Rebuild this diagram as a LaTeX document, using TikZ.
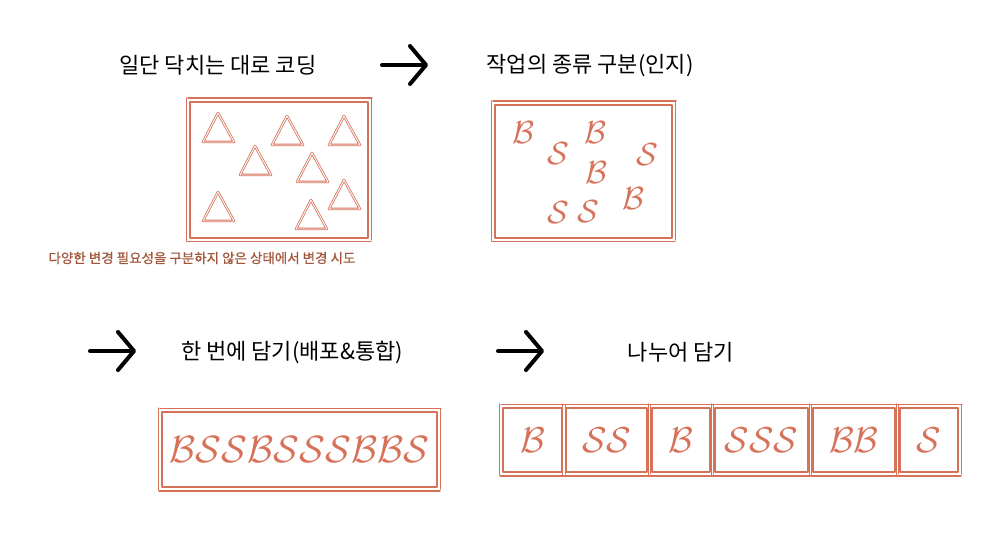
\documentclass[tikz,border=0pt]{standalone}
\usepackage{fontspec}
\newfontfamily\kor{Noto Sans CJK KR}
\newfontfamily\kornote{Noto Sans CJK KR}[FakeBold=0.8]
\usepackage{xcolor}
\usepackage{graphicx}
\usetikzlibrary{arrows.meta}
\definecolor{brick}{RGB}{214,114,90}
\definecolor{umber}{RGB}{163,88,62}
\newcommand{\bigcal}[2]{\scalebox{#1}{$\mathcal{#2}$}}
\tikzset{>=latex}
\tikzstyle{title}=[font=\kor\fontsize{22}{22}\selectfont, inner sep=0]
\tikzstyle{note}=[font=\kornote\fontsize{13.5}{14}\selectfont, text=umber, inner sep=0]
\tikzstyle{pen}=[draw=brick, line width=2pt, line cap=round, line join=round]
\tikzstyle{sketchbox}=[pen, inner sep=0, text=brick]
\tikzstyle{tri}=[draw=brick, double=white, line width=0.8pt, double distance=0.9pt, line join=round]
\tikzstyle{go}=[line width=4pt, line cap=round, -{Straight Barb[length=16pt,width=38pt,round]}]
\tikzstyle{letter}=[text=brick, inner sep=0]

\begin{document}
\begin{tikzpicture}[x=1pt, y=-1pt]
      \useasboundingbox (0,0) rectangle (1003,537);
      \node[title] (t1) at (218,65) {일단 닥치는 대로 코딩};
      \node[title] (t2) at (590,66) {작업의 종류 구분(인지)};
      \node[title] (t3) at (292,352) {한 번에 담기(배포\&통합)};
      \node[title] (t4) at (681,352) {나누어 담기};
      \node[note] (n1) at (202,258) {다양한 변경 필요성을 구분하지 않은 상태에서 변경 시도};
      \coordinate (a1) at (382,65);
      \coordinate (a1e) at (428,65);
      \coordinate (a2) at (90,351);
      \coordinate (a2e) at (136,351);
      \coordinate (a3) at (498,351);
      \coordinate (a3e) at (544,351);
      \draw[go] (a1) -- (a1e);
      \draw[go] (a2) -- (a2e);
      \draw[go] (a3) -- (a3e);
      \node[sketchbox, minimum width=178pt, minimum height=136pt] (box1) at (279,170) {};
      \node[sketchbox, minimum width=177pt, minimum height=133pt] (box2) at (583.5,171.5) {};
      \node[sketchbox, minimum width=275pt, minimum height=75pt] (box3) at (299.5,449.5) {\bigcal{3.8}{BSSBSSSBBS}};
      \node[sketchbox, minimum width=59pt, minimum height=64pt] (p1) at (532.5,440) {\bigcal{3.6}{B}};
      \node[sketchbox, minimum width=81pt, minimum height=64pt] (p2) at (606.5,440) {\bigcal{3.6}{SS}};
      \node[sketchbox, minimum width=58pt, minimum height=64pt] (p3) at (681,440) {\bigcal{3.6}{B}};
      \node[sketchbox, minimum width=93pt, minimum height=64pt] (p4) at (761.5,440) {\bigcal{3.6}{SSS}};
      \node[sketchbox, minimum width=82pt, minimum height=64pt] (p5) at (854,440) {\bigcal{3.6}{BB}};
      \node[sketchbox, minimum width=58pt, minimum height=64pt] (p6) at (929,440) {\bigcal{3.6}{S}};
      \foreach \b in {box1,box2,box3,p1,p2,p3,p4,p5,p6}{
        \draw[pen, line width=1.4pt] ([shift={(-1,-2.8)}]\b.north west) -- ([shift={(3,-2.8)}]\b.north east);
        \draw[pen, line width=1.4pt] ([shift={(-2.8,-3)}]\b.north west) -- ([shift={(-2.8,2)}]\b.south west);
        \draw[pen, line width=1.4pt] ([shift={(-2,2.8)}]\b.south west) -- ([shift={(2,2.8)}]\b.south east);
        \draw[pen, line width=1.4pt] ([shift={(2.5,-2)}]\b.north east) -- ([shift={(2.5,1)}]\b.south east);
      }
      \foreach \x/\y in {218/113, 287/116, 344/116, 255/146, 312/153, 344/180, 218/192, 311/200}
        \draw[tri] (\x-15,\y+29) -- (\x,\y) -- (\x+16,\y+29) -- cycle;
      \node[letter] (b1) at (523,133) {\bigcal{3.2}{B}};
      \node[letter] (s1) at (558,154) {\bigcal{3.2}{S}};
      \node[letter] (b2) at (595,133) {\bigcal{3.2}{B}};
      \node[letter] (s2) at (647,155) {\bigcal{3.2}{S}};
      \node[letter] (b3) at (596,173) {\bigcal{3.2}{B}};
      \node[letter] (b4) at (633,199) {\bigcal{3.2}{B}};
      \node[letter] (s3) at (558,213) {\bigcal{3.2}{S}};
      \node[letter] (s4) at (588,212) {\bigcal{3.2}{S}};
    \end{tikzpicture}
\end{document}
